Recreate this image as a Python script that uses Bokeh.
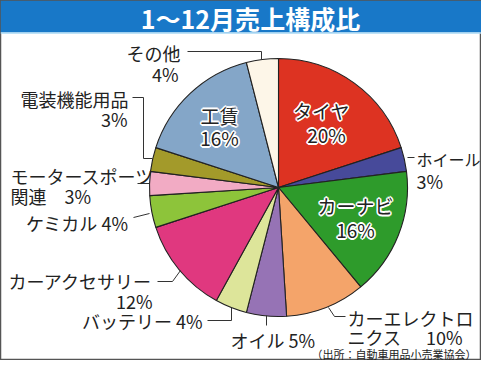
import math
from bokeh.plotting import figure
from bokeh.models import Range1d, ColumnDataSource
from bokeh.core.properties import value
from bokeh.embed import file_html
from bokeh.resources import INLINE

# ---------------- data ----------------
title = "1～12月売上構成比"
categories = ["タイヤ", "ホイール", "カーナビ", "カーエレクトロニクス", "オイル", "バッテリー",
              "カーアクセサリー", "ケミカル", "モータースポーツ関連", "電装機能用品", "工賃", "その他"]
shares = [20, 3, 16, 10, 5, 4, 12, 4, 3, 3, 16, 4]
colors = ["#dd3322", "#474a9a", "#2e9b2b", "#f4a46a", "#9673b5", "#dde59a",
          "#e0387f", "#8dc43a", "#f2abc4", "#a39a2a", "#84a6c8", "#fdf6e8"]
source_note = "（出所：自動車用品小売業協会）"

FONT = value("Noto Sans CJK JP")

# ---------------- figure (coordinates in reference pixels, y flipped) ----------------
W, H = 481, 360
p = figure(width=W, height=H, x_range=Range1d(0, W), y_range=Range1d(376 - H, 376),
           output_backend="svg", toolbar_location=None, min_border=0,
           x_axis_location=None, y_axis_location=None)
p.grid.visible = False
p.outline_line_color = "#555555"
p.outline_line_width = 1.5
p.background_fill_color = "white"
p.border_fill_color = "white"


def Y(r):
    return 376 - r


# title bar
p.quad(left=[0], right=[W], bottom=[Y(32)], top=[Y(0)], fill_color="#1878c8", line_color=None)
p.segment(x0=[0], x1=[W], y0=[Y(32.5)], y1=[Y(32.5)], line_color="#a8d8f5", line_width=1.5)
p.text(x=[250], y=[Y(17)], text=[title], text_align="center", text_baseline="middle",
       text_font_size="25px", text_font_style="bold", text_color="white", text_font=FONT)

# ---------------- pie ----------------
CX, CY, R = 278, 187, 129
starts, ends = [], []
cum = 0
for v in shares:
    starts.append(math.pi / 2 - 2 * math.pi * cum / 100)
    cum += v
    ends.append(math.pi / 2 - 2 * math.pi * cum / 100)
src = ColumnDataSource(dict(cat=categories, share=shares, color=colors, start=starts, end=ends))
p.wedge(x=CX, y=Y(CY), radius=R, start_angle="start", end_angle="end", direction="clock",
        fill_color="color", line_color="#222222", line_width=1.1, source=src)

# ---------------- leader lines ----------------
leaders = [
    [(187, 51), (261, 51), (261, 59)],               # その他
    [(132, 97), (143, 97), (143, 158), (152, 158)],  # 電装機能用品
    [(137, 183), (149, 183)],                        # モータースポーツ関連
    [(133, 217), (149, 213)],                        # ケミカル
    [(157, 281), (172, 281), (180, 270)],            # カーアクセサリー
    [(207, 320), (231, 320), (231, 307)],            # バッテリー
    [(266, 315), (266, 325)],                        # オイル
    [(328, 307), (334, 316), (345, 316)],            # カーエレクトロニクス
    [(407, 157), (414, 157)],                        # ホイール
]
p.multi_line(xs=[[a for a, b in l] for l in leaders], ys=[[Y(b) for a, b in l] for l in leaders],
             line_color="#333333", line_width=1)


def txt(x, y, s, align="left", size="18px", color="#222222", halo=False):
    if halo:
        for dx, dy in [(-1.6, 0), (1.6, 0), (0, -1.6), (0, 1.6),
                       (-1.2, -1.2), (1.2, 1.2), (-1.2, 1.2), (1.2, -1.2)]:
            p.text(x=[x], y=[Y(y)], text=[s], x_offset=dx, y_offset=dy, text_align=align,
                   text_baseline="middle", text_font_size=size, text_color="white", text_font=FONT)
    p.text(x=[x], y=[Y(y)], text=[s], text_align=align, text_baseline="middle",
           text_font_size=size, text_color=color, text_font=FONT)


pct = [f"{v}%" for v in shares]

# outer labels
txt(180, 52, categories[11], "right")
txt(178, 73, pct[11], "right")
txt(128, 98, categories[9], "right")
txt(127, 118, pct[9], "right")
txt(10, 175, "モータースポーツ", "left")
txt(10, 195, "関連　" + pct[8], "left")
txt(128, 222, categories[7] + " " + pct[7], "right")
txt(152, 280, categories[6], "right")
txt(152, 300, pct[6], "right")
txt(202, 320, categories[5] + " " + pct[5], "right")
txt(230, 339, categories[4] + " " + pct[4], "left")
txt(347, 317, "カーエレクトロ", "left")
txt(347, 336, "ニクス", "left")
txt(462, 336, pct[3], "right")
txt(416, 158, categories[1], "left", "16px")
txt(416, 180, pct[1], "left")

# inner labels with halo
txt(321, 110, categories[0], "center", "19px", halo=True)
txt(326, 134, pct[0], "center", "19px", halo=True)
txt(219, 115, categories[10], "center", "19px", halo=True)
txt(219, 137, pct[10], "center", "19px", halo=True)
txt(355, 205, categories[2], "center", "19px", halo=True)
txt(355, 229, pct[2], "center", "19px", halo=True)

# source note
txt(476, 353, source_note, "right", "11px")

open("out.html", "w").write(file_html(p, INLINE))
